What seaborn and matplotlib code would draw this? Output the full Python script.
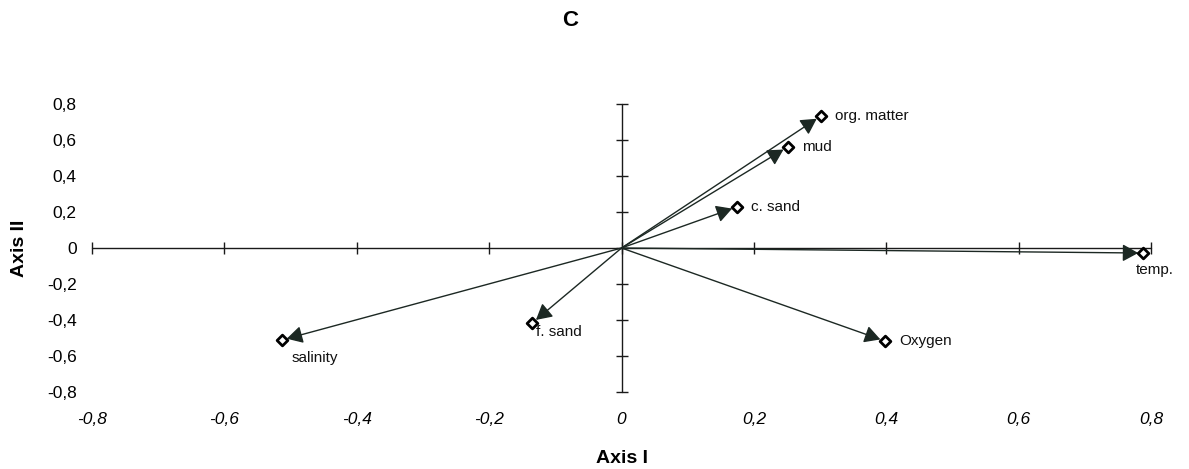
import numpy as np
import pandas as pd
import matplotlib
matplotlib.use("Agg")
import matplotlib.pyplot as plt
import seaborn as sns

# ---- data ----
variables = ["org. matter", "mud", "c. sand", "temp.", "Oxygen", "f. sand", "salinity"]
axis1 = [0.301, 0.251, 0.174, 0.788, 0.398, -0.135, -0.513]
axis2 = [0.733, 0.561, 0.228, -0.028, -0.517, -0.417, -0.511]
tick_values = [-0.8, -0.6, -0.4, -0.2, 0.0, 0.2, 0.4, 0.6, 0.8]
tick_labels = ["-0,8", "-0,6", "-0,4", "-0,2", "0", "0,2", "0,4", "0,6", "0,8"]

# label offsets in pixels (dx, dy) and alignment
label_offsets = {
    "org. matter": (14, 0, "left"),
    "mud": (14, 0, "left"),
    "c. sand": (14, 0, "left"),
    "temp.": (12, -17, "center"),
    "Oxygen": (14, 0, "left"),
    "f. sand": (4, -9, "left"),
    "salinity": (10, -18, "left"),
}

df = pd.DataFrame({"var": variables, "x": axis1, "y": axis2})

sns.set_theme(style="white")
plt.rcParams["font.family"] = ["Liberation Sans", "DejaVu Sans"]
plt.rcParams["text.color"] = "black"
plt.rcParams["xtick.color"] = "black"
plt.rcParams["ytick.color"] = "black"

W, H = 1189, 469
fig = plt.figure(figsize=(W / 100, H / 100), dpi=100)
ax = fig.add_axes([78.8 / W, (H - 395.6) / H, 1085.5 / W, 295.2 / H])
ax.set_xlim(-0.82, 0.82)
ax.set_ylim(-0.82, 0.82)
for s in ax.spines.values():
    s.set_visible(False)

axcol = "#1a1a1a"
# axis lines through origin
ax.plot([tick_values[0], tick_values[-1]], [0, 0], color=axcol, lw=1.0, zorder=1)
ax.plot([0, 0], [tick_values[0], tick_values[-1]], color=axcol, lw=1.0, zorder=1)
ax.plot(tick_values, [0] * len(tick_values), ls="none", marker="|", ms=9, mew=1.0, color=axcol, zorder=1)
ax.plot([0] * len(tick_values), tick_values, ls="none", marker="_", ms=9, mew=1.0, color=axcol, zorder=1)

arrow_col = "#1c2823"
for _, r in df.iterrows():
    ax.annotate("", xy=(r.x, r.y), xytext=(0, 0),
                arrowprops=dict(arrowstyle="-|>,head_length=0.6,head_width=0.33",
                                color=arrow_col, lw=1.0,
                                mutation_scale=16, shrinkA=0, shrinkB=3.5),
                zorder=2)

sns.scatterplot(data=df, x="x", y="y", marker="D", s=30, facecolor="white",
                edgecolor="black", linewidth=2.0, ax=ax, zorder=3, legend=False)

for _, r in df.iterrows():
    dx, dy, ha = label_offsets[r["var"]]
    ax.annotate(r["var"], xy=(r.x, r.y), xytext=(dx * 0.72, dy * 0.72),
                textcoords="offset points", ha=ha, va="center", fontsize=11,
                color="#111111", zorder=4)

ax.set_xticks(tick_values)
ax.set_xticklabels(tick_labels, fontsize=12.5, style="italic")
ax.set_yticks(tick_values)
ax.set_yticklabels(tick_labels, fontsize=12.5)
ax.tick_params(axis="x", length=0, pad=12)
ax.tick_params(axis="y", length=0, pad=1.5)
ax.set_xlabel("")
ax.set_ylabel("")

fig.text(622 / W, 1 - 458 / H, "Axis I", ha="center", va="center", fontsize=14, fontweight="bold")
fig.text(20 / W, 1 - 248 / H, "Axis II", ha="center", va="center", rotation=90,
         fontsize=14, fontweight="bold")
fig.text(570 / W, 1 - 20 / H, "C", ha="center", va="center", fontsize=16, fontweight="bold")

fig.savefig("out.png", dpi=100)
